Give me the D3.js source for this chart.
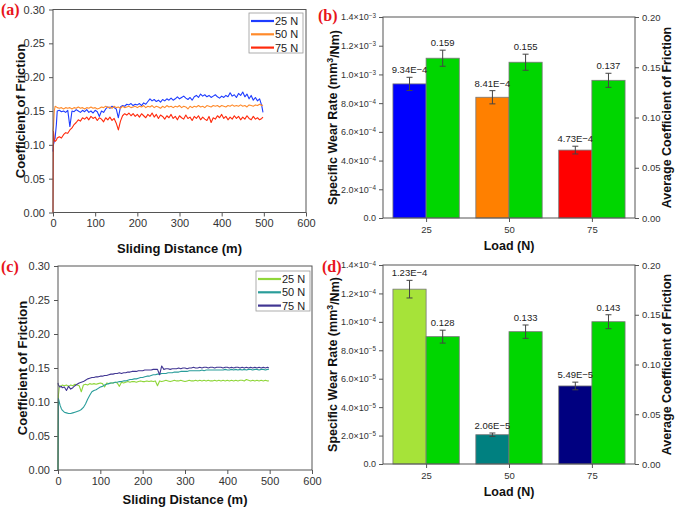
<!DOCTYPE html>
<html>
<head>
<meta charset="utf-8">
<script src="https://cdn.jsdelivr.net/npm/d3@7"></script>
<style>
  body { margin: 0; background: #fff; }
  svg { display: block; font-family: Arial, "Liberation Sans", sans-serif; }
</style>
</head>
<body>
<div id="fig"></div>
<script>
// sliding distance grid (m), shared by all friction curves
const distance = [0, 1, 3, 5, 8, 10, 15, 20, 25, 30,
  35, 40, 45, 50, 55, 60, 65, 70, 75, 80,
  85, 90, 95, 100, 105, 110, 115, 120, 125, 130,
  135, 140, 145, 150, 155, 160, 165, 170, 175, 180,
  185, 190, 195, 200, 205, 210, 215, 220, 225, 230,
  235, 240, 245, 250, 255, 260, 265, 270, 275, 280,
  285, 290, 295, 300, 305, 310, 315, 320, 325, 330,
  335, 340, 345, 350, 355, 360, 365, 370, 375, 380,
  385, 390, 395, 400, 405, 410, 415, 420, 425, 430,
  435, 440, 445, 450, 455, 460, 465, 470, 475, 480,
  485, 490, 495, 498];

// panel (a) coefficient of friction
const cofA25 = [0.090, 0.100, 0.105, 0.110, 0.130, 0.150, 0.151, 0.149, 0.150, 0.148,
  0.151, 0.127, 0.150, 0.149, 0.152, 0.150, 0.148, 0.151, 0.149, 0.152,
  0.148, 0.150, 0.147, 0.151, 0.149, 0.142, 0.150, 0.148, 0.153, 0.156,
  0.154, 0.157, 0.155, 0.153, 0.140, 0.156, 0.158, 0.157, 0.160, 0.159,
  0.161, 0.158, 0.160, 0.159, 0.161, 0.158, 0.162, 0.160, 0.164, 0.168,
  0.165, 0.167, 0.164, 0.166, 0.163, 0.167, 0.165, 0.168, 0.166, 0.169,
  0.166, 0.168, 0.171, 0.168, 0.170, 0.172, 0.169, 0.167, 0.170, 0.166,
  0.171, 0.173, 0.170, 0.175, 0.172, 0.174, 0.171, 0.173, 0.170, 0.172,
  0.174, 0.171, 0.169, 0.172, 0.170, 0.173, 0.171, 0.177, 0.172, 0.174,
  0.170, 0.176, 0.173, 0.178, 0.171, 0.175, 0.168, 0.173, 0.166, 0.170,
  0.165, 0.168, 0.158, 0.148];
const cofA50 = [0.120, 0.125, 0.150, 0.157, 0.156, 0.155, 0.154, 0.155, 0.153, 0.155,
  0.154, 0.155, 0.153, 0.155, 0.154, 0.156, 0.154, 0.155, 0.153, 0.155,
  0.154, 0.156, 0.154, 0.155, 0.153, 0.154, 0.156, 0.155, 0.157, 0.155,
  0.156, 0.154, 0.157, 0.155, 0.156, 0.154, 0.157, 0.155, 0.156, 0.157,
  0.155, 0.156, 0.157, 0.155, 0.157, 0.156, 0.158, 0.155, 0.157, 0.156,
  0.158, 0.155, 0.157, 0.156, 0.154, 0.157, 0.155, 0.158, 0.156, 0.157,
  0.155, 0.157, 0.156, 0.158, 0.155, 0.157, 0.156, 0.153, 0.157, 0.155,
  0.157, 0.156, 0.158, 0.156, 0.157, 0.155, 0.158, 0.157, 0.156, 0.158,
  0.157, 0.158, 0.156, 0.158, 0.157, 0.156, 0.158, 0.157, 0.159, 0.157,
  0.158, 0.157, 0.159, 0.157, 0.158, 0.156, 0.159, 0.158, 0.157, 0.159,
  0.158, 0.160, 0.158, 0.159];
const cofA75 = [0.000, 0.120, 0.108, 0.105, 0.107, 0.110, 0.112, 0.110, 0.115, 0.118,
  0.117, 0.122, 0.125, 0.130, 0.133, 0.137, 0.135, 0.140, 0.138, 0.141,
  0.137, 0.142, 0.139, 0.141, 0.136, 0.140, 0.138, 0.134, 0.140, 0.137,
  0.141, 0.136, 0.139, 0.132, 0.122, 0.135, 0.143, 0.146, 0.144, 0.147,
  0.143, 0.146, 0.142, 0.145, 0.141, 0.146, 0.143, 0.140, 0.145, 0.142,
  0.147, 0.141, 0.145, 0.139, 0.144, 0.142, 0.138, 0.143, 0.140, 0.145,
  0.139, 0.142, 0.137, 0.143, 0.140, 0.138, 0.144, 0.139, 0.141, 0.136,
  0.142, 0.139, 0.143, 0.137, 0.141, 0.138, 0.136, 0.142, 0.133, 0.140,
  0.138, 0.143, 0.140, 0.145, 0.139, 0.142, 0.137, 0.141, 0.138, 0.143,
  0.139, 0.142, 0.137, 0.141, 0.138, 0.143, 0.139, 0.137, 0.142, 0.138,
  0.140, 0.137, 0.139, 0.141];

// panel (c) coefficient of friction
const cofC25 = [0.000, 0.110, 0.122, 0.124, 0.123, 0.125, 0.124, 0.125, 0.123, 0.125,
  0.124, 0.126, 0.125, 0.124, 0.115, 0.125, 0.126, 0.125, 0.127, 0.126,
  0.127, 0.126, 0.127, 0.128, 0.127, 0.122, 0.128, 0.127, 0.128, 0.128,
  0.129, 0.128, 0.123, 0.129, 0.128, 0.129, 0.130, 0.129, 0.130, 0.130,
  0.129, 0.130, 0.131, 0.130, 0.130, 0.131, 0.130, 0.131, 0.130, 0.131,
  0.124, 0.131, 0.130, 0.131, 0.132, 0.131, 0.130, 0.131, 0.132, 0.131,
  0.131, 0.132, 0.131, 0.130, 0.131, 0.132, 0.131, 0.131, 0.132, 0.131,
  0.132, 0.131, 0.132, 0.131, 0.132, 0.131, 0.131, 0.132, 0.131, 0.132,
  0.131, 0.132, 0.131, 0.132, 0.131, 0.132, 0.131, 0.132, 0.131, 0.132,
  0.132, 0.131, 0.133, 0.132, 0.131, 0.132, 0.131, 0.132, 0.131, 0.132,
  0.131, 0.132, 0.131, 0.131];
const cofC50 = [0.000, 0.105, 0.100, 0.095, 0.090, 0.088, 0.085, 0.084, 0.083, 0.083,
  0.084, 0.085, 0.086, 0.087, 0.089, 0.092, 0.097, 0.104, 0.110, 0.115,
  0.117, 0.118, 0.120, 0.122, 0.123, 0.125, 0.126, 0.127, 0.128, 0.128,
  0.129, 0.129, 0.130, 0.130, 0.131, 0.131, 0.132, 0.133, 0.133, 0.134,
  0.134, 0.135, 0.136, 0.136, 0.137, 0.138, 0.138, 0.139, 0.140, 0.140,
  0.141, 0.141, 0.142, 0.142, 0.142, 0.143, 0.143, 0.143, 0.144, 0.144,
  0.144, 0.145, 0.145, 0.145, 0.145, 0.146, 0.146, 0.146, 0.146, 0.146,
  0.146, 0.147, 0.146, 0.147, 0.147, 0.147, 0.147, 0.147, 0.147, 0.147,
  0.147, 0.147, 0.148, 0.147, 0.147, 0.148, 0.147, 0.148, 0.147, 0.148,
  0.147, 0.148, 0.147, 0.148, 0.148, 0.147, 0.148, 0.148, 0.147, 0.148,
  0.148, 0.147, 0.148, 0.148];
const cofC75 = [0.128, 0.125, 0.123, 0.122, 0.123, 0.121, 0.122, 0.117, 0.123, 0.119,
  0.121, 0.124, 0.126, 0.128, 0.129, 0.130, 0.132, 0.134, 0.135, 0.136,
  0.136, 0.137, 0.137, 0.138, 0.138, 0.139, 0.139, 0.140, 0.141, 0.141,
  0.142, 0.142, 0.143, 0.142, 0.143, 0.143, 0.144, 0.144, 0.145, 0.145,
  0.145, 0.146, 0.146, 0.146, 0.147, 0.147, 0.147, 0.147, 0.148, 0.148,
  0.148, 0.140, 0.153, 0.148, 0.149, 0.149, 0.148, 0.149, 0.149, 0.149,
  0.150, 0.149, 0.150, 0.150, 0.149, 0.150, 0.150, 0.151, 0.150, 0.150,
  0.151, 0.150, 0.151, 0.151, 0.150, 0.151, 0.151, 0.150, 0.151, 0.151,
  0.151, 0.150, 0.151, 0.151, 0.150, 0.151, 0.150, 0.151, 0.151, 0.150,
  0.151, 0.150, 0.151, 0.150, 0.151, 0.150, 0.151, 0.150, 0.151, 0.150,
  0.151, 0.150, 0.151, 0.150];

const loadNames = ["25 N", "50 N", "75 N"];
const loads = [25, 50, 75];

// panel (b) bars
const wearB = [9.34e-4, 8.41e-4, 4.73e-4];
const wearErrB = [0.46e-4, 0.46e-4, 0.27e-4];
const wearLabelsB = ["9.34E\u22124", "8.41E\u22124", "4.73E\u22124"];
const avgCofB = [0.159, 0.155, 0.137];
const avgCofErrB = [0.008, 0.008, 0.007];

// panel (d) bars
const wearD = [1.23e-4, 2.06e-5, 5.49e-5];
const wearErrD = [0.62e-5, 0.12e-5, 0.27e-5];
const wearLabelsD = ["1.23E\u22124", "2.06E\u22125", "5.49E\u22125"];
const avgCofD = [0.128, 0.133, 0.143];
const avgCofErrD = [0.0065, 0.0067, 0.007];

const svg = d3.select("#fig").append("svg")
  .attr("width", 678).attr("height", 508);
svg.append("rect").attr("width", 678).attr("height", 508).attr("fill", "#fff");

const axisColor = "#555";
const tickTextColor = "#333";

// panel letters
[["(a)", 1, 15], ["(b)", 318, 21], ["(c)", 1, 272], ["(d)", 322, 272]].forEach(([t, x, y]) => {
  svg.append("text").attr("x", x).attr("y", y)
    .attr("font-family", "'Liberation Serif', 'DejaVu Serif', serif")
    .attr("font-weight", "bold").attr("font-size", 16)
    .attr("fill", "#e8141c").text(t);
});

function styleAxis(g, size) {
  g.select(".domain").remove();
  g.selectAll(".tick line").attr("stroke", axisColor);
  g.selectAll(".tick text").attr("fill", tickTextColor).attr("font-size", size);
}

// friction curve panel
function drawLinePanel(box, curves, colors, legend, titleOffset) {
  const x = d3.scaleLinear().domain([0, 600]).range([box.left, box.right]);
  const y = d3.scaleLinear().domain([0, 0.30]).range([box.bottom, box.top]);
  const g = svg.append("g");

  g.append("g").attr("transform", `translate(${box.left},0)`)
    .call(d3.axisLeft(y).tickValues(d3.range(0, 0.301, 0.05)).tickFormat(d3.format(".2f"))
      .tickSize(4).tickPadding(4))
    .call(a => styleAxis(a, 11));
  g.append("g").attr("transform", `translate(0,${box.bottom})`)
    .call(d3.axisBottom(x).tickValues(d3.range(0, 601, 100)).tickSize(4).tickPadding(3))
    .call(a => styleAxis(a, 11));

  const line = d3.line().x((d, i) => x(distance[i])).y(d => y(d));
  curves.forEach((c, k) => {
    g.append("path").datum(c).attr("d", line)
      .attr("fill", "none").attr("stroke", colors[k]).attr("stroke-width", 1.1)
      .attr("stroke-linejoin", "round");
  });

  g.append("rect").attr("x", box.left).attr("y", box.top)
    .attr("width", box.right - box.left).attr("height", box.bottom - box.top)
    .attr("fill", "none").attr("stroke", axisColor).attr("stroke-width", 1);

  // legend
  const lg = g.append("g");
  lg.append("rect").attr("x", legend.x).attr("y", legend.y).attr("width", 54).attr("height", 40)
    .attr("fill", "#fff").attr("stroke", "#999").attr("stroke-width", 0.8);
  loadNames.forEach((n, k) => {
    const yy = legend.y + 8 + k * 13.3;
    lg.append("line").attr("x1", legend.x + 2).attr("x2", legend.x + 25)
      .attr("y1", yy).attr("y2", yy).attr("stroke", colors[k]).attr("stroke-width", 2.2);
    lg.append("text").attr("x", legend.x + 26).attr("y", yy + 4)
      .attr("font-size", 11).attr("fill", "#222").text(n);
  });

  g.append("text").attr("x", (box.left + box.right) / 2).attr("y", box.bottom + titleOffset)
    .attr("text-anchor", "middle").attr("font-weight", "bold").attr("font-size", 13)
    .attr("fill", "#111").text("Sliding Distance (m)");
  g.append("text")
    .attr("transform", `translate(${box.yTitleX},${(box.top + box.bottom) / 2}) rotate(-90)`)
    .attr("dy", "0.35em").attr("text-anchor", "middle").attr("font-weight", "bold")
    .attr("font-size", 13).attr("fill", "#111").text("Coefficient of Friction");
}

// scientific tick label like 1.4x10^-3
function sciTicks(a) {
  a.selectAll(".tick text").each(function (v) {
    const t = d3.select(this).text("");
    if (v === 0) { t.text("0.0"); return; }
    const e = Math.floor(Math.log10(v) + 1e-9);
    const m = v / Math.pow(10, e);
    t.append("tspan").text(m.toFixed(1) + "\u00d710");
    t.append("tspan").attr("dy", "-0.45em").attr("font-size", "0.7em").text("\u2212" + (-e));
  });
}

// wear rate / average COF bar panel
function drawBarPanel(box, wear, wearErr, wearLabels, cof, cofErr, wearColors, wearMax) {
  const x = d3.scaleLinear().domain([12, 88]).range([box.left, box.right]);
  const yL = d3.scaleLinear().domain([0, wearMax]).range([box.bottom, box.top]);
  const yR = d3.scaleLinear().domain([0, 0.20]).range([box.bottom, box.top]);
  const g = svg.append("g");
  const green = "#00d600";

  // bars
  loads.forEach((c, i) => {
    g.append("rect").attr("x", x(c - 10)).attr("width", x(c) - x(c - 10))
      .attr("y", yL(wear[i])).attr("height", yL(0) - yL(wear[i]))
      .attr("fill", wearColors[i]).attr("stroke", "#777").attr("stroke-width", 0.8);
    g.append("rect").attr("x", x(c)).attr("width", x(c + 10) - x(c))
      .attr("y", yR(cof[i])).attr("height", yR(0) - yR(cof[i]))
      .attr("fill", green).attr("stroke", "#777").attr("stroke-width", 0.8);
  });

  // error bars + value labels
  const err = (cx, yTop, yBot) => {
    g.append("line").attr("x1", cx).attr("x2", cx).attr("y1", yTop).attr("y2", yBot)
      .attr("stroke", "#444").attr("stroke-width", 1);
    [yTop, yBot].forEach(yy => g.append("line").attr("x1", cx - 3).attr("x2", cx + 3)
      .attr("y1", yy).attr("y2", yy).attr("stroke", "#444").attr("stroke-width", 1));
  };
  loads.forEach((c, i) => {
    const cl = x(c - 5), cr = x(c + 5);
    err(cl, yL(wear[i] + wearErr[i]), yL(wear[i] - wearErr[i]));
    err(cr, yR(cof[i] + cofErr[i]), yR(cof[i] - cofErr[i]));
    g.append("text").attr("x", cl).attr("y", yL(wear[i] + wearErr[i]) - 4)
      .attr("text-anchor", "middle").attr("font-size", 9.5).attr("fill", "#222").text(wearLabels[i]);
    g.append("text").attr("x", cr).attr("y", yR(cof[i] + cofErr[i]) - 4)
      .attr("text-anchor", "middle").attr("font-size", 9.5).attr("fill", "#222")
      .text(d3.format(".3f")(cof[i]));
  });

  // axes
  g.append("g").attr("transform", `translate(${box.left},0)`)
    .call(d3.axisLeft(yL).tickValues(d3.range(0, 7.5).map(k => k * wearMax / 7))
      .tickSize(4).tickPadding(3))
    .call(a => styleAxis(a, 9))
    .call(sciTicks);
  g.append("g").attr("transform", `translate(${box.right},0)`)
    .call(d3.axisRight(yR).tickValues(d3.range(0, 0.201, 0.05)).tickFormat(d3.format(".2f"))
      .tickSize(4).tickPadding(3))
    .call(a => styleAxis(a, 9.5));
  g.append("g").attr("transform", `translate(0,${box.bottom})`)
    .call(d3.axisBottom(x).tickValues(loads).tickSize(4).tickPadding(4))
    .call(a => styleAxis(a, 9.5));

  g.append("rect").attr("x", box.left).attr("y", box.top)
    .attr("width", box.right - box.left).attr("height", box.bottom - box.top)
    .attr("fill", "none").attr("stroke", axisColor).attr("stroke-width", 1);

  // titles
  g.append("text").attr("x", (box.left + box.right) / 2).attr("y", box.bottom + 32)
    .attr("text-anchor", "middle").attr("font-weight", "bold").attr("font-size", 12.5)
    .attr("fill", "#111").text("Load (N)");
  const mid = (box.top + box.bottom) / 2;
  const lt = g.append("text")
    .attr("transform", `translate(333,${mid}) rotate(-90)`)
    .attr("dy", "0.35em").attr("text-anchor", "middle").attr("font-weight", "bold")
    .attr("font-size", 12.5).attr("fill", "#111");
  lt.append("tspan").text("Specific Wear Rate (mm");
  lt.append("tspan").attr("dy", "-0.45em").attr("font-size", "0.7em").text("3");
  lt.append("tspan").attr("dy", "0.45em").text("/Nm)");
  g.append("text")
    .attr("transform", `translate(667,${mid}) rotate(-90)`)
    .attr("dy", "0.35em").attr("text-anchor", "middle").attr("font-weight", "bold")
    .attr("font-size", 12.5).attr("fill", "#111").text("Average Coefficient of Friction");
}

drawLinePanel({ left: 53, right: 306, top: 9.5, bottom: 212.5, yTitleX: 20 },
  [cofA25, cofA50, cofA75], ["#1e3cff", "#ff8a2a", "#ff2a0c"], { x: 249, y: 13 }, 40);
drawLinePanel({ left: 58, right: 312, top: 266, bottom: 470, yTitleX: 22 },
  [cofC25, cofC50, cofC75], ["#8fd63a", "#2a9d9a", "#403592"], { x: 256, y: 271 }, 34);

drawBarPanel({ left: 383, right: 635, top: 17, bottom: 218 },
  wearB, wearErrB, wearLabelsB, avgCofB, avgCofErrB, ["#0000ff", "#ff8000", "#ff0000"], 1.4e-3);
drawBarPanel({ left: 383, right: 635, top: 265, bottom: 464 },
  wearD, wearErrD, wearLabelsD, avgCofD, avgCofErrD, ["#a6e339", "#008080", "#000080"], 1.4e-4);
</script>
</body>
</html>
